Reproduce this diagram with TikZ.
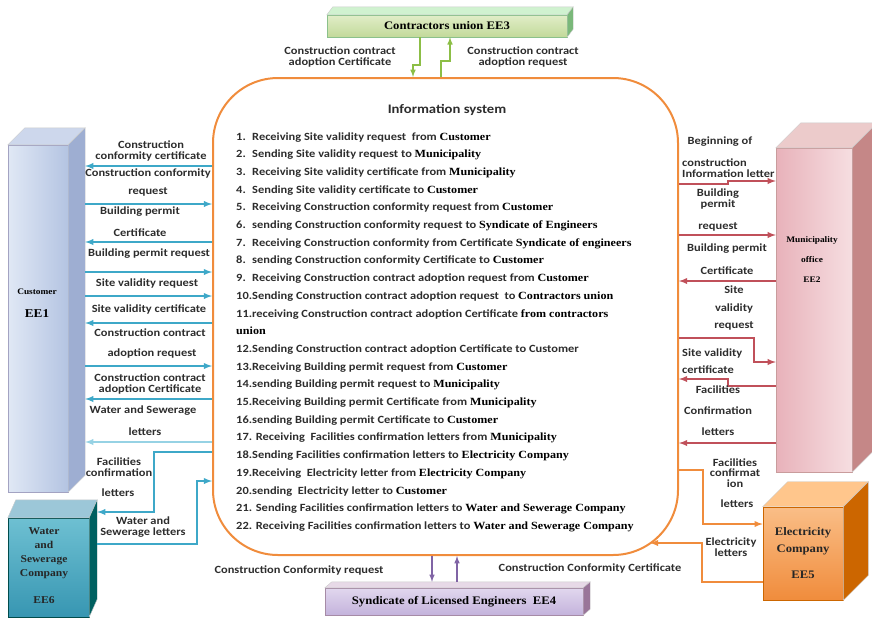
\documentclass[tikz,border=0pt]{standalone}
\usepackage{fontspec}
\setmainfont{Liberation Serif}[FakeStretch=1.1]
\setsansfont{Carlito}[FakeStretch=1.13]
\usetikzlibrary{positioning,calc}

\definecolor{isorange}{RGB}{240,140,60}
\definecolor{labgray}{RGB}{45,45,45}
\definecolor{cyline}{RGB}{62,168,200}
\definecolor{cylight}{RGB}{150,210,228}
\definecolor{rdline}{RGB}{192,80,90}
\definecolor{grline}{RGB}{140,190,70}
\definecolor{puline}{RGB}{128,100,165}
\definecolor{custtop}{RGB}{205,215,236}
\definecolor{custside}{RGB}{158,174,210}

\newcommand\entname[1]{{\rmfamily\bfseries\color{black}#1}}
% top and side faces of a block: node, dx, dy, top colour, side colour
\newcommand\cubefaces[5]{%
  \fill[#4, draw=black!20, line width=0.4pt] (#1.north west) -- ++(#2,-#3) -- ([shift={(#2,-#3)}]#1.north east) -- (#1.north east) -- cycle;
  \fill[#5, draw=black!20, line width=0.4pt] (#1.north east) -- ++(#2,-#3) -- ([shift={(#2,-#3)}]#1.south east) -- (#1.south east) -- cycle;}

\begin{document}
\begin{tikzpicture}[x=1pt, y=-1pt,
    lab/.style={font=\sffamily\bfseries\fontsize{11}{10.5}\selectfont, text=labgray, align=center, inner sep=0pt},
    item/.style={font=\sffamily\bfseries\fontsize{11}{12}\selectfont, text=labgray, anchor=base west, inner sep=0pt},
    ent/.style={font=\rmfamily\bfseries, text=black, align=center, inner sep=0pt},
    isbox/.style={draw=isorange, line width=2pt, rounded corners=65pt, fill=white},
    cyarr/.style={draw=cyline, line width=1.8pt, -latex},
    rdarr/.style={draw=rdline, line width=1.8pt, -latex},
    orarr/.style={draw=isorange, line width=1.8pt, -latex},
    grarr/.style={draw=grline, line width=1.5pt, -latex},
    puarr/.style={draw=puline, line width=1.5pt, -latex}
]
\useasboundingbox (0,0) rectangle (872,619);
\clip (0,0) rectangle (872,619);

% external entities
\node[draw=blue!20!gray!60, line width=0.4pt, left color={rgb,255:red,224;green,232;blue,245}, right color={rgb,255:red,180;green,196;blue,226}, minimum width=60, minimum height=347, inner sep=0pt] (cust) at (38,318.5) {};
\cubefaces{cust}{17}{17}{custtop}{custside}
\coordinate (custedge) at ([shift={(17,0)}]cust.east);
\node[ent, font=\rmfamily\bfseries\fontsize{8.5}{9}\selectfont] (custname) at (37,292) {Customer};
\node[ent, font=\rmfamily\bfseries\fontsize{12}{13}\selectfont] (custid) at (37,314) {EE1};

\node[draw=red!30!gray!60, line width=0.4pt, left color={rgb,255:red,232;green,178;blue,186}, right color={rgb,255:red,246;green,222;blue,225}, minimum width=76, minimum height=324, inner sep=0pt] (mun) at (814,310) {};
\cubefaces{mun}{25}{25}{red!15!white!85!gray}{red!35!gray!70}
\node[ent, font=\rmfamily\bfseries\fontsize{8.5}{9}\selectfont] (munname) at (812,260) {Municipality\\[11pt]office\\[11pt]EE2};

\node[draw=teal!60!black, line width=0.4pt, top color={rgb,255:red,110;green,192;blue,210}, bottom color={rgb,255:red,55;green,150;blue,178}, minimum width=81, minimum height=99, inner sep=0pt] (ws) at (48.5,567.5) {};
\cubefaces{ws}{8}{18}{cyan!30!teal!45}{teal!75!black}
\coordinate (wsedge) at ([shift={(8,0)}]ws.east);
\node[ent, font=\rmfamily\bfseries\fontsize{10.5}{14}\selectfont, text=black!85] (wsname) at (44,566) {Water\\and\\Sewerage\\Company\\[13pt]EE6};

\node[draw=orange!80!black, line width=0.6pt, top color={rgb,255:red,250;green,190;blue,135}, bottom color={rgb,255:red,240;green,140;blue,60}, minimum width=80, minimum height=93, inner sep=0pt] (elec) at (803,553.5) {};
\cubefaces{elec}{25}{25}{orange!45}{orange!80!black}
\node[ent, font=\rmfamily\bfseries\fontsize{11.5}{17}\selectfont, text=black!85] (elecname) at (803,553) {Electricity\\Company\\[9pt]EE5};

\node[draw=green!30!gray!70, line width=0.4pt, top color={rgb,255:red,225;green,238;blue,200}, bottom color={rgb,255:red,194;green,217;blue,154}, minimum width=240, minimum height=22, inner sep=0pt, ent, font=\rmfamily\bfseries\fontsize{11.5}{12}\selectfont] (contr) at (447,26) {Contractors union EE3};
\cubefaces{contr}{6}{8}{green!15!white!90!gray}{green!30!gray!80}

\node[draw=violet!30!gray!70, line width=0.4pt, top color={rgb,255:red,225;green,215;blue,238}, bottom color={rgb,255:red,196;green,179;blue,220}, minimum width=258, minimum height=27, inner sep=0pt, ent, font=\rmfamily\bfseries\fontsize{11.5}{12}\selectfont] (synd) at (454,601.5) {Syndicate of Licensed Engineers\ \ EE4};
\cubefaces{synd}{7}{6}{violet!12!white!92!gray}{violet!35!gray!80}
\coordinate (syndtop) at ([shift={(0,-6)}]synd.north);

% information system
\node[isbox, minimum width=465, minimum height=477] (is) at (445.5,316.5) {};
\coordinate (iselec) at (650,543);
\node[lab, font=\sffamily\bfseries\fontsize{13}{14}\selectfont] (istitle) at (447,110) {Information system};
\foreach \t [count=\k from 0] in {
    {\makebox[16pt][l]{1.}Receiving Site validity request\ \ from \entname{Customer}},
    {\makebox[16pt][l]{2.}Sending Site validity request to \entname{Municipality}},
    {\makebox[16pt][l]{3.}Receiving Site validity certificate from \entname{Municipality}},
    {\makebox[16pt][l]{4.}Sending Site validity certificate to \entname{Customer}},
    {\makebox[16pt][l]{5.}Receiving Construction conformity request from \entname{Customer}},
    {\makebox[16pt][l]{6.}sending Construction conformity request to \entname{Syndicate of Engineers}},
    {\makebox[16pt][l]{7.}Receiving Construction conformity from Certificate \entname{Syndicate of engineers}},
    {\makebox[16pt][l]{8.}sending Construction conformity Certificate to \entname{Customer}},
    {\makebox[16pt][l]{9.}Receiving Construction contract adoption request from \entname{Customer}},
    {10.Sending Construction contract adoption request\ \ to \entname{Contractors union}},
    {11.receiving Construction contract adoption Certificate \entname{from contractors}},
    {\entname{union}},
    {12.Sending Construction contract adoption Certificate to Customer},
    {13.Receiving Building permit request from \entname{Customer}},
    {14.sending Building permit request to \entname{Municipality}},
    {15.Receiving Building permit Certificate from \entname{Municipality}},
    {16.sending Building permit Certificate to \entname{Customer}},
    {17. Receiving\ \ Facilities confirmation letters from \entname{Municipality}},
    {18.Sending Facilities confirmation letters to \entname{Electricity Company}},
    {19.Receiving\ \ Electricity letter from \entname{Electricity Company}},
    {20.sending\ \ Electricity letter to \entname{Customer}},
    {21. Sending Facilities confirmation letters to \entname{Water and Sewerage Company}},
    {22. Receiving Facilities confirmation letters to \entname{Water and Sewerage Company}}}
  \node[item] (it\k) at (236,{140+17.7*\k}) {\t};

% customer flows
\foreach \y in {166,242,323,399}
  \draw[cyarr] (is.west |- 0,\y) -- (custedge |- 0,\y);
\foreach \y in {204,272,296,366}
  \draw[cyarr] (custedge |- 0,\y) -- (is.west |- 0,\y);
\draw[cyarr, draw=cylight] (is.west |- 0,442) -- (custedge |- 0,442);
\draw[cyarr] (is.west |- 0,452) -- ++(-58,0) |- (wsedge |- 0,512);
\draw[cyarr] (wsedge |- 0,544) -- ++(100,0) |- (is.west |- 0,481);

\node[lab] (l1) at (151,151) {Construction\\conformity certificate};
\node[lab] (l2) at (148,173) {Construction conformity};
\node[lab] (l2b) at (148,192) {request};
\node[lab] (l3) at (140,212) {Building permit};
\node[lab] (l3b) at (140,233) {Certificate};
\node[lab] (l4) at (149,254) {Building permit request};
\node[lab] (l5) at (147,283) {Site validity request};
\node[lab] (l6) at (149,309) {Site validity certificate};
\node[lab] (l7) at (150,333) {Construction contract};
\node[lab] (l7b) at (152,353) {adoption request};
\node[lab] (l8) at (150,384) {Construction contract\\adoption Certificate};
\node[lab] (l9) at (143,411) {Water and Sewerage};
\node[lab] (l9b) at (145,432) {letters};
\node[lab] (l10) at (119,467) {Facilities\\confirmation};
\node[lab] (l10b) at (118,493) {letters};
\node[lab] (l11) at (143,527) {Water and\\Sewerage letters};

% municipality flows
\draw[rdarr] (is.east |- 0,184) -- ++(49,0) |- (mun.west |- 0,181);
\draw[rdarr] (is.east |- 0,235) -- (mun.west |- 0,235);
\foreach \y in {281,443}
  \draw[rdarr] (mun.west |- 0,\y) -- (is.east |- 0,\y);
\draw[rdarr] (is.east |- 0,338) -- ++(75,0) |- (mun.west |- 0,362);
\draw[rdarr] (mun.west |- 0,386) -- ++(-48,0) |- (is.east |- 0,379);

\node[lab] (r1) at (720,142) {Beginning of};
\node[lab, align=left, anchor=west] (r1b) at (682,168) {construction\\Information letter};
\node[lab] (r2) at (718,199) {Building\\permit};
\node[lab] (r2b) at (718,227) {request};
\node[lab] (r3) at (727,249) {Building permit};
\node[lab] (r3b) at (727,271) {Certificate};
\node[lab, font=\sffamily\bfseries\fontsize{11}{17.5}\selectfont] (r4) at (734,308) {Site\\validity\\request};
\node[lab, align=left, anchor=west] (r5) at (682,361) {Site validity\\[6pt]certificate};
\node[lab, font=\sffamily\bfseries\fontsize{11}{21}\selectfont] (r6) at (718,411) {Facilities\\Confirmation\\letters};

% electricity flows
\draw[orarr] (is.east |- 0,470) -- ++(24,0) |- (elec.west |- 0,524);
\draw[orarr] (elec.west |- 0,582) -- ++(-61,0) |- (iselec);
\node[lab] (e1) at (735,473) {Facilities\\confirmat\\ion};
\node[lab] (e1b) at (737,504) {letters};
\node[lab] (e2) at (731,547) {Electricity\\letters};

% contractors union flows
\draw[grarr] ([xshift=-27pt]contr.south) -- ++(0,28) -| (is.north -| 413,0);
\draw[grarr] (is.north -| 441,0) -- ++(0,-16) -| ([xshift=3pt]contr.south);
\node[lab] (c1) at (340,57) {Construction contract\\adoption Certificate};
\node[lab] (c2) at (523,57) {Construction contract\\adoption request};

% syndicate flows
\draw[puarr] (is.south -| 432,0) -- (syndtop -| 432,0);
\draw[puarr] (syndtop -| 457,0) -- (is.south -| 457,0);
\node[lab] (s1) at (299,570) {Construction Conformity request};
\node[lab] (s2) at (590,568) {Construction Conformity Certificate};
\end{tikzpicture}
\end{document}
